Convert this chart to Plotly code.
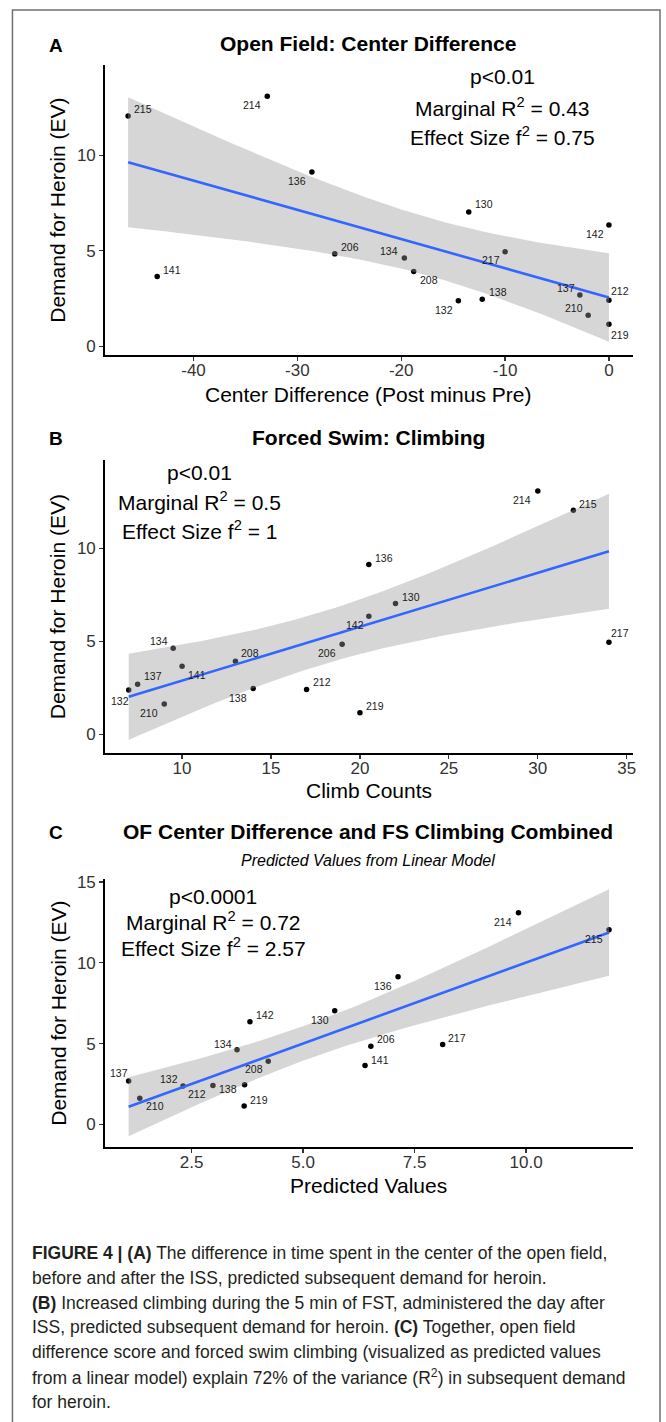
import numpy as np
import plotly.graph_objects as go

W, H = 666, 1422

# ---------------- data ----------------
rat_ids = ["130", "132", "134", "136", "137", "138", "141", "142",
           "206", "208", "210", "212", "214", "215", "217", "219"]
demand_ev = [7.03, 2.38, 4.62, 9.13, 2.69, 2.46, 3.65, 6.35,
             4.84, 3.92, 1.63, 2.41, 13.09, 12.05, 4.95, 1.15]
center_difference = [-13.5, -14.5, -19.7, -28.6, -2.8, -12.2, -43.5, 0.0,
                     -26.4, -18.8, -2.0, 0.0, -32.9, -46.3, -10.0, 0.0]
climb_counts = [22, 7, 9.5, 20.5, 7.5, 14, 10, 20.5,
                19, 13, 9, 17, 30, 32, 34, 20]
predicted_values = [5.71, 2.31, 3.52, 7.13, 1.09, 3.69, 6.39, 3.81,
                    6.52, 4.22, 1.34, 2.98, 9.83, 11.86, 8.13, 3.68]

x_tickvals_a = [-40, -30, -20, -10, 0]
x_ticktext_a = ["-40", "-30", "-20", "-10", "0"]
x_tickvals_b = [10, 15, 20, 25, 30, 35]
x_ticktext_b = ["10", "15", "20", "25", "30", "35"]
x_tickvals_c = [2.5, 5.0, 7.5, 10.0]
x_ticktext_c = ["2.5", "5.0", "7.5", "10.0"]
y_tickvals_ab = [0, 5, 10]
y_tickvals_c = [0, 5, 10, 15]

stats_a = ["p<0.01", "Marginal R<sup>2</sup> = 0.43", "Effect Size f<sup>2</sup> = 0.75"]
stats_b = ["p<0.01", "Marginal R<sup>2</sup> = 0.5", "Effect Size f<sup>2</sup> = 1"]
stats_c = ["p<0.0001", "Marginal R<sup>2</sup> = 0.72", "Effect Size f<sup>2</sup> = 2.57"]

caption_lines = [
    "<b>FIGURE 4 | (A)</b> The difference in time spent in the center of the open field,",
    "before and after the ISS, predicted subsequent demand for heroin.",
    "<b>(B)</b> Increased climbing during the 5 min of FST, administered the day after",
    "ISS, predicted subsequent demand for heroin. <b>(C)</b> Together, open field",
    "difference score and forced swim climbing (visualized as predicted values",
    "from a linear model) explain 72% of the variance (R<sup>2</sup>) in subsequent demand",
    "for heroin.",
]

T_CRIT_DF14 = 2.144787  # t quantile (0.975, df = n - 2)

# ---------------- label offsets (px, screen: +dy = down) ----------------
offsets_a = {"215": (15, -7), "214": (-15, 9), "136": (-15, 9), "130": (15, -8),
             "142": (-14, 9), "206": (15, -7), "134": (-15, -7), "217": (-14, 8),
             "208": (15, 9), "141": (15, -7), "138": (16, -7), "132": (-14, 9),
             "137": (-14, -7), "212": (11, -9), "210": (-14, -7), "219": (11, 11)}
offsets_b = {"214": (-16, 9), "215": (15, -6), "136": (15, -7), "130": (15, -7),
             "142": (-14, 9), "217": (11, -9), "134": (-14, -7), "206": (-15, 9),
             "208": (15, -8), "141": (15, 9), "137": (15, -8), "212": (15, -7),
             "138": (-15, 10), "132": (-9, 11), "210": (-15, 9), "219": (15, -7)}
offsets_c = {"214": (-15, 9), "215": (-15, 9), "136": (-15, 9), "130": (-15, 9),
             "142": (15, -7), "206": (15, -7), "217": (14, -6), "141": (15, -6),
             "134": (-14, -6), "208": (-14, 8), "137": (-10, -8), "210": (15, 8),
             "132": (-14, -7), "212": (-16, 8), "138": (-17, 4), "219": (15, -6)}

FONT = "Liberation Sans, Arial, sans-serif"
CAP_FONT = "Liberation Sans, Arial, sans-serif"


def px(x):
    return x / W


def py(y):
    return 1 - y / H


def lm_band(x, y, n_grid=80):
    x = np.asarray(x, float)
    y = np.asarray(y, float)
    n = len(x)
    X = np.column_stack([np.ones(n), x])
    beta, *_ = np.linalg.lstsq(X, y, rcond=None)
    resid = y - X @ beta
    s2 = resid @ resid / (n - 2)
    xm = x.mean()
    sxx = ((x - xm) ** 2).sum()
    xg = np.linspace(x.min(), x.max(), n_grid)
    fit = beta[0] + beta[1] * xg
    se = np.sqrt(s2 * (1 / n + (xg - xm) ** 2 / sxx))
    return xg, fit, fit - T_CRIT_DF14 * se, fit + T_CRIT_DF14 * se


panels = [
    dict(x=center_difference, ax="", xr=[-48.57, 2.33], yr=[-0.47, 14.74],
         top=59, bottom=351, xt=(x_tickvals_a, x_ticktext_a), yt=y_tickvals_ab,
         off=offsets_a),
    dict(x=climb_counts, ax="2", xr=[5.64, 35.36], yr=[-1.03, 14.77],
         top=456, bottom=751, xt=(x_tickvals_b, x_ticktext_b), yt=y_tickvals_ab,
         off=offsets_b),
    dict(x=predicted_values, ax="3", xr=[0.55, 12.40], yr=[-1.41, 15.2],
         top=877, bottom=1147, xt=(x_tickvals_c, x_ticktext_c), yt=y_tickvals_c,
         off=offsets_c),
]

fig = go.Figure()
annotations = []
layout_axes = {}

for p in panels:
    xa = "x" + p["ax"]
    ya = "y" + p["ax"]
    # points (drawn first so the ribbon shades them, as in ggplot)
    fig.add_trace(go.Scatter(x=p["x"], y=demand_ev, mode="markers",
                             marker=dict(color="black", size=5.5),
                             xaxis=xa, yaxis=ya, showlegend=False))
    xg, fit, lo, hi = lm_band(p["x"], demand_ev)
    fig.add_trace(go.Scatter(x=np.concatenate([xg, xg[::-1]]),
                             y=np.concatenate([hi, lo[::-1]]),
                             fill="toself", fillcolor="rgba(153,153,153,0.4)",
                             line=dict(width=0), mode="lines",
                             xaxis=xa, yaxis=ya, showlegend=False))
    fig.add_trace(go.Scatter(x=xg, y=fit, mode="lines",
                             line=dict(color="#3366FF", width=2.6),
                             xaxis=xa, yaxis=ya, showlegend=False))
    for rid, xv, yv in zip(rat_ids, p["x"], demand_ev):
        dx, dy = p["off"][rid]
        annotations.append(dict(x=xv, y=yv, xref=xa, yref=ya, text=rid,
                                showarrow=False, xshift=dx, yshift=-dy,
                                font=dict(family=FONT, size=10.5, color="#1a1a1a")))
    axis_common = dict(showline=True, linecolor="black", linewidth=1.3,
                       showgrid=False, zeroline=False, ticks="outside",
                       ticklen=4, tickwidth=1.2, tickcolor="#333333",
                       tickfont=dict(family=FONT, size=17, color="#333333"),
                       fixedrange=True)
    kx = "xaxis" + p["ax"]
    ky = "yaxis" + p["ax"]
    layout_axes[kx] = dict(axis_common, domain=[px(105), px(636)], range=p["xr"],
                           tickmode="array", tickvals=p["xt"][0], ticktext=p["xt"][1],
                           anchor=ya, ticklabelstandoff=-5)
    layout_axes[ky] = dict(axis_common, domain=[py(p["bottom"]), py(p["top"])],
                           range=p["yr"], tickmode="array", tickvals=p["yt"],
                           ticktext=[str(v) for v in p["yt"]], anchor=xa)


def txt(x, y, text, size=21, bold=False, italic=False, xanchor="center",
        angle=0, family=FONT, color="black", dy=-4):
    if bold:
        text = "<b>" + text + "</b>"
    if italic:
        text = "<i>" + text + "</i>"
    annotations.append(dict(x=px(x), y=py(y + dy), xref="paper", yref="paper",
                            text=text, showarrow=False, xanchor=xanchor,
                            yanchor="middle", textangle=angle,
                            font=dict(family=family, size=size, color=color)))


# panel letters and titles
txt(47, 44, "A", size=19, bold=True, xanchor="left")
txt(370, 42, "Open Field: Center Difference", bold=True)
txt(47, 439, "B", size=19, bold=True, xanchor="left")
txt(370, 438, "Forced Swim: Climbing", bold=True)
txt(47, 835, "C", size=19, bold=True, xanchor="left")
txt(370, 834, "OF Center Difference and FS Climbing Combined", bold=True)
txt(370, 861, "Predicted Values from Linear Model", size=16, italic=True, dy=-2)

# stats
for (cx, ys), lines in zip([(505, [75, 106, 135]), (200, [473, 501, 531]),
                            (214, [899, 924, 950])],
                           [stats_a, stats_b, stats_c]):
    for yy, line in zip(ys, lines):
        txt(cx, yy, line)

# axis titles
txt(370, 394, "Center Difference (Post minus Pre)")
txt(371, 792, "Climb Counts")
txt(370, 1189, "Predicted Values")
for yc in [205, 603.5, 1012]:
    txt(58, yc, "Demand for Heroin (EV)", angle=-90, dy=0)

# caption
for i, line in enumerate(caption_lines):
    txt(30, 1253 + 25 * i, line, size=17.5, xanchor="left", family=CAP_FONT,
        color="#231f20", dy=0)

fig.update_layout(
    width=W, height=H, autosize=False,
    margin=dict(l=0, r=0, t=0, b=0),
    paper_bgcolor="white", plot_bgcolor="white",
    showlegend=False,
    annotations=annotations,
    shapes=[dict(type="rect", xref="paper", yref="paper",
                 x0=px(12.5), x1=px(663), y0=py(1440), y1=py(4),
                 line=dict(color="#707070", width=1.5))],
    **layout_axes,
)

fig.write_html(
    "out.html",
    config={"displayModeBar": False, "staticPlot": True},
    post_script="document.body.style.margin='0';document.body.style.overflow='hidden';",
)
